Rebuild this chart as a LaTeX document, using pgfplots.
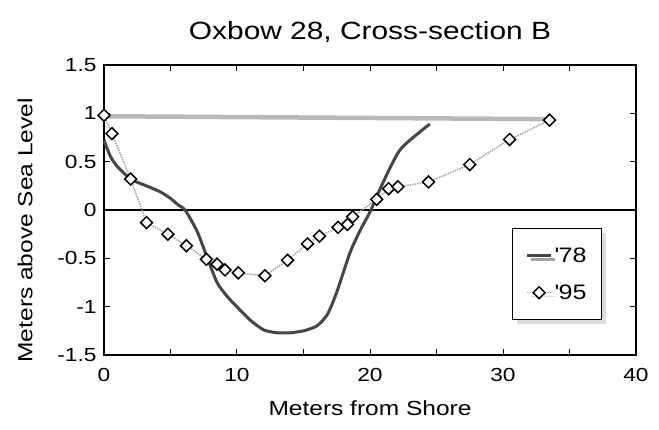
\documentclass[border=0pt]{standalone}
\usepackage{fontspec}
\setmainfont{Liberation Sans}[FakeStretch=1.2]
\usepackage{pgfplots}
\pgfplotsset{compat=1.18}
\usetikzlibrary{shadows}
\begin{document}
\begin{tikzpicture}
\begin{axis}[
  scale only axis, width=532bp, height=290bp,
  xmin=0, xmax=40, ymin=-1.5, ymax=1.5,
  xtick={0,10,20,30,40},
  minor xtick={5,15,25,35},
  ytick={-1.5,-1,-0.5,0,0.5,1,1.5},
  yticklabels={-1.5,-1,-0.5,0,0.5,1,1.5},
  tick align=inside,
  major tick length=6bp, minor tick length=6bp,
  tick style={black, line width=1bp},
  axis line style={black, line width=1.4bp},
  /pgf/number format/assume math mode=true,
  ticklabel style={font=\fontsize{19}{22}\selectfont},
  xticklabel style={anchor=center, yshift=-20bp},
  yticklabel style={anchor=east, xshift=-4bp},
  title={Oxbow 28, Cross-section B},
  title style={font=\fontsize{25}{29}\selectfont, at={(axis description cs:0.5,1.093)}, anchor=center},
  xlabel={Meters from Shore},
  ylabel={Meters above Sea Level},
  label style={font=\fontsize{20.5}{24}\selectfont},
  xlabel style={at={(axis description cs:0.5,-0.183)}, anchor=center},
  ylabel style={at={(axis description cs:-0.1485,0.43)}, anchor=center},
  legend style={at={(0.767,0.438)}, anchor=north west, draw=black, line width=1.2bp,
    fill=white, font=\fontsize{21}{24}\selectfont,
    drop shadow={shadow xshift=4bp, shadow yshift=-4bp, fill=gray!55},
    row sep=17bp, inner xsep=13bp, inner ysep=17bp},
  legend cell align=left,
  legend image code/.code={\draw[#1] (0bp,0bp) -- (24bp,0bp); \path[#1, only marks] plot coordinates {(12bp,0bp)};},
  clip=false,
]
% zero line
\addplot[black, line width=1.1bp, forget plot] coordinates {(0,0) (40,0)};
% water level
\addplot[gray!55, line width=4.5bp, forget plot] coordinates {(0,0.97) (33.5,0.94)};
% '78
\addplot[gray!55!black, line width=3bp, smooth, tension=0.4] coordinates {
(0,0.72) (0.5,0.55) (1,0.45) (2,0.32) (3,0.26) (4.2,0.19) (5,0.12) (5.6,0.05)
(6.1,0) (7,-0.22) (7.7,-0.47) (8.5,-0.75) (9.3,-0.9) (10.2,-1.03) (11,-1.14)
(12,-1.24) (13,-1.27) (14,-1.27) (15,-1.25) (16,-1.2) (16.8,-1.08) (17.5,-0.85)
(18.5,-0.44) (19.3,-0.2) (20,-0.02) (21,0.29) (22.3,0.63) (24.5,0.89)};
\addlegendentry{\textquotesingle78}
% '95
\addplot[gray!70, line width=1.5bp, densely dotted, mark=square*, mark size=4.2bp,
  mark options={fill=white, draw=black, line width=1.5bp, solid, rotate=45}] coordinates {
(0,0.98) (0.6,0.79) (2,0.32) (3.2,-0.13) (4.8,-0.25) (6.2,-0.37) (7.7,-0.51)
(8.5,-0.56) (9.1,-0.62) (10.1,-0.65) (12.1,-0.68) (13.8,-0.52) (15.3,-0.35)
(16.2,-0.27) (17.6,-0.18) (18.3,-0.15) (18.7,-0.07) (20.5,0.11) (21.4,0.22)
(22.1,0.24) (24.4,0.29) (27.5,0.47) (30.5,0.73) (33.5,0.93)};
\addlegendentry{\textquotesingle95}
\end{axis}
\path[use as bounding box] (current axis.south west) ++(-104bp,-75bp) rectangle ++(659bp,430bp);
\end{tikzpicture}
\end{document}
